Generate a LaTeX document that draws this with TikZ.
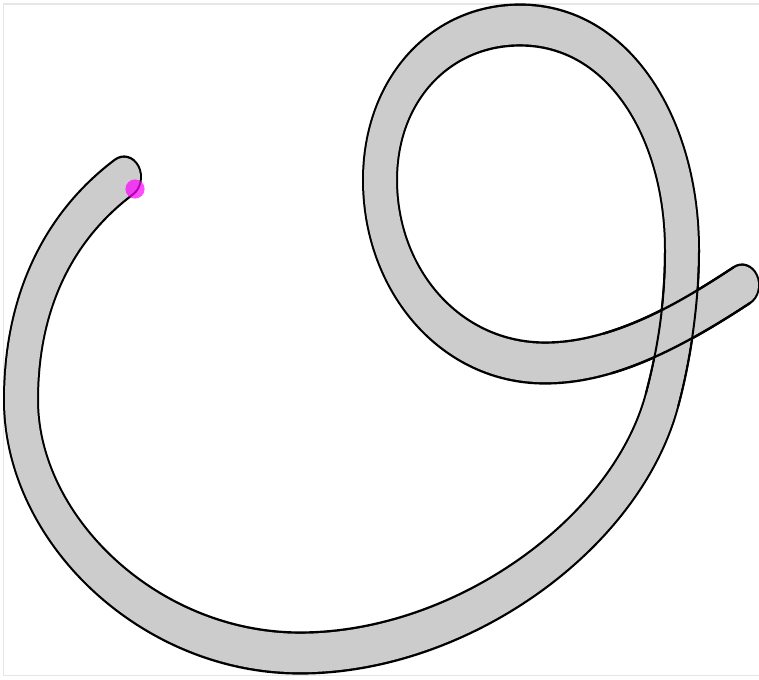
\documentclass[tikz,border=0pt]{standalone}
\usetikzlibrary{calc}
\definecolor{bandgray}{HTML}{CCCCCC}
\definecolor{framegray}{HTML}{E6E6E6}
\definecolor{dotpink}{HTML}{FF00FF}

% both edges of one cubic piece of the ribbon: #1 .. controls #2 and #3 .. #4
\newcommand{\ribbonedges}[4]{%
  \draw[edge] ($(#1)!17pt!90:(#2)$) .. controls ($(#2)!17pt!-90:(#1)$)
    and ($(#3)!17pt!90:(#4)$) .. ($(#4)!17pt!-90:(#3)$);
  \draw[edge] ($(#1)!17pt!-90:(#2)$) .. controls ($(#2)!17pt!90:(#1)$)
    and ($(#3)!17pt!-90:(#4)$) .. ($(#4)!17pt!90:(#3)$);
}

\begin{document}
\begin{tikzpicture}[
      x=1pt, y=-1pt, % pixel grid, y downwards
      frame/.style={draw=framegray, line width=1.3pt},
      band/.style={draw=bandgray, line width=32pt, line cap=round,
                   preaction={draw=black, line width=36pt, line cap=round}},
      edge/.style={draw=black, line width=2pt},
      startdot/.style={fill=dotpink, opacity=0.7},
    ]
    \useasboundingbox (0,0) rectangle (759,679);

    % ---- frame ----------------------------------------------------------
    \draw[frame] (3.5,4) rectangle (775,675.8);

    % ---- the ribbon (pen stretched upright) -----------------------------
    \begin{scope}[transform canvas={yscale=1.2}, y={(0,-0.833333pt)}]
      \coordinate (A0) at (124,177);
      \coordinate (A1) at (21,400);
      \coordinate (A2) at (300,653);
      \coordinate (A3) at (662,400);
      \coordinate (A4) at (682,250);
      \coordinate (A5) at (520,25);
      \coordinate (A6) at (380,180);
      \coordinate (A7) at (545,363);
      \coordinate (D1) at (607.37,353.43);
      \coordinate (A8) at (742,285);
      % controls of the two strands at the crossing
      \coordinate (C31) at ($(A3)+(12.9,-48.3)$);
      \coordinate (C42) at ($(A4)+(0,50)$);
      \coordinate (E1) at (655.2,339.39);
      \coordinate (E2) at (701.05,311.95);

      \draw[band] (A0) .. controls +(-64,48) and +(0,-100) .. (A1)
        .. controls +(0,130) and +(-150,0) .. (A2)
        .. controls +(160,0) and +(-36,135) .. (A3)
        .. controls (C31) and (C42) .. (A4)
        .. controls +(0,-120) and +(100,0) .. (A5)
        .. controls +(-80,0) and +(0,-90) .. (A6)
        .. controls +(0,100) and +(-95,0) .. (A7)
        .. controls (566,363) and (586.87,359.45) .. (D1)
        .. controls (E1) and (E2) .. (A8);

      % ---- crossing: edges of both strands ------------------------------
      \ribbonedges{A3}{C31}{C42}{A4}
      \ribbonedges{D1}{E1}{E2}{A8}
    \end{scope}

    % ---- start marker ---------------------------------------------------
    \fill[startdot] (135,189) circle (9.6);
  \end{tikzpicture}
\end{document}
